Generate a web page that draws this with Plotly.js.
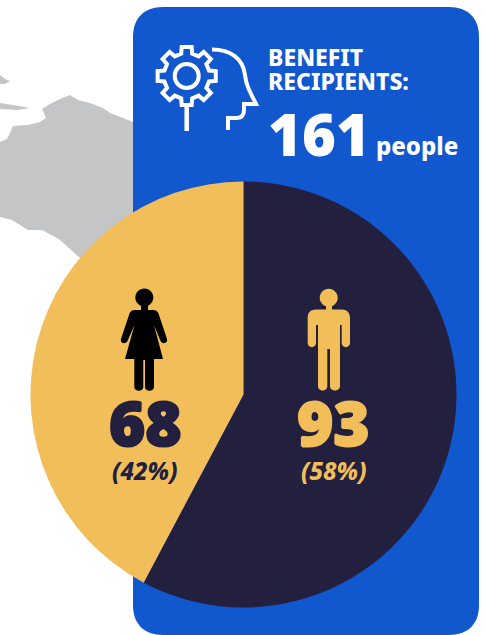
<!DOCTYPE html>
<html>
<head>
<meta charset="utf-8">
<script src="https://cdn.plot.ly/plotly-3.0.1.min.js"></script>
<style>html,body{margin:0;padding:0;background:#fff}#chart{width:485px;height:635px}</style>
</head>
<body>
<div id="chart"></div>
<script>
// Recipients by gender
const genders = ["Men", "Women"];
const recipients = [93, 68];
const shares = ["(58%)", "(42%)"];
const totalLabel = "161";

const W = 485, H = 635;
const BLUE = "#1157CE", NAVY = "#231F3F", GOLD = "#F2BE5A", GREY = "#C4C5C7";
const FONT = "Noto Sans, Open Sans, sans-serif";

// Pixel position to paper coordinates
const px = x => (x / W).toFixed(5);
const py = y => (1 - y / H).toFixed(5);

// Turns "M x y L x y C ..." written in pixels into a paper-space path
function toPaper(d) {
  let isX = true;
  return d.replace(/[A-Z]|-?[\d.]+/g, t => {
    if (/[A-Z]/.test(t)) { isX = true; return t; }
    const v = isX ? px(+t) : py(+t);
    isX = !isX;
    return v;
  });
}
const poly = pts => "M" + pts.map(p => p.join(" ")).join(" L") + " Z";
const filled = (d, color, layer) => ({
  type: "path", xref: "paper", yref: "paper", layer: layer || "above",
  path: toPaper(d), fillcolor: color, line: {width: 0}
});
const stroked = (d, color, width) => ({
  type: "path", xref: "paper", yref: "paper", layer: "above",
  path: toPaper(d), line: {color: color, width: width}
});
const disc = (cx, cy, r) =>
  `M${cx - r} ${cy} C${cx - r} ${cy - r * .552} ${cx - r * .552} ${cy - r} ${cx} ${cy - r} ` +
  `C${cx + r * .552} ${cy - r} ${cx + r} ${cy - r * .552} ${cx + r} ${cy} ` +
  `C${cx + r} ${cy + r * .552} ${cx + r * .552} ${cy + r} ${cx} ${cy + r} ` +
  `C${cx - r * .552} ${cy + r} ${cx - r} ${cy + r * .552} ${cx - r} ${cy} Z`;

// Land mass behind the panel
const landMain = [[133,122],[123,118],[110,113],[103,108],[90,103],[78,100],[70,95],[60,99],[50,104],[42,109],
  [46,118],[40,122],[28,125],[13,126],[10,133],[7,139],[0,142],[0,217],[12,220],[28,230],[42,230],[55,237],
  [60,240],[80,258],[110,280],[133,280]];
const landIsleA = [[0,75],[5,79],[10,81],[5,84],[0,84]];
const landIsleB = [[0,103],[13,105],[30,108],[17,110],[0,109]];

// Gear outline with eight teeth
function gearPath(cx, cy, rOut, rIn) {
  const pts = [];
  for (let i = 0; i < 8; i++) {
    const a = i * Math.PI / 4 - Math.PI / 2;
    [[rIn, -0.24], [rOut, -0.17], [rOut, 0.17], [rIn, 0.24]].forEach(([r, d]) => {
      pts.push([(cx + r * Math.cos(a + d)).toFixed(2), (cy + r * Math.sin(a + d)).toFixed(2)]);
    });
  }
  return poly(pts);
}

const womanBody = "M136 310 C132 310 130 311 129 315 L121 339 C120 343 125 345 127.5 341 L134.5 325 " +
  "L125 359 L134.3 359 L134.3 387 C134.3 392 143.3 392 143.3 387 L143.3 360 L145 360 L145 387 C145 392 154 392 154 387 " +
  "L154 359 L163 359 L154 325 L160.5 341 C163 345 168 343 167 339 L159 315 C158 311 156 310 152 310 Z";
const manBody = "M316 309.5 C310 309.5 307.7 313 307.7 318 L307.7 343 C307.7 348.5 316 348.5 316 343 L316 325 L318 325 " +
  "L318 386 C318 392 327.3 392 327.3 386 L327.3 349 L330 349 L330 386 C330 392 340 392 340 386 L340 325 L341.7 325 " +
  "L341.7 343 C341.7 348.5 350 348.5 350 343 L350 318 C350 313 347 309.5 342 309.5 Z";

const shapes = [
  filled(poly(landMain), GREY, "below"),
  filled(poly(landIsleA), GREY, "below"),
  filled(poly(landIsleB), GREY, "below"),
  filled("M163 7 L449 7 C468 7 479 18 479 37 L479 605 C479 624 468 635 449 635 L163 635 C144 635 133 624 133 605 L133 37 C133 18 144 7 163 7 Z", BLUE, "below"),
  stroked(gearPath(186.7, 76, 29.5, 23), "#fff", 4),
  stroked(disc(186.7, 76, 12), "#fff", 4),
  stroked("M186.7 107 L186.7 131", "#fff", 4.5),
  stroked("M212 49.5 C230 49.5 243 58 245 75 C246 85 250 92 256 104 L244 104 L244 110 C244 116 241 118 236 118 L228 118 L228 130", "#fff", 4),
  filled(disc(144.3, 297.5, 9), "#000"),
  filled("M141 305 L148 305 L148 312 L141 312 Z", "#000"),
  filled(womanBody, "#000"),
  filled(disc(328.7, 297.7, 9), GOLD),
  filled("M326 305 L332 305 L332 312 L326 312 Z", GOLD),
  filled(manBody, GOLD)
];

const label = (text, x, y, size, color, weight, extra) => Object.assign({
  text: text, xref: "paper", yref: "paper", x: x / W, y: 1 - y / H,
  xanchor: "left", yanchor: "middle", showarrow: false,
  font: {family: FONT, size: size, color: color, weight: weight}
}, extra || {});
const pctFont = color => ({family: FONT, size: 24, color: color, weight: 800, style: "italic"});
// Soft outline thickens the big figures to a black weight
const heavy = color => `1px 0 0 ${color}, -1px 0 0 ${color}, 0 1px 0 ${color}, 0 -1px 0 ${color}`;
const bigFont = color => ({family: FONT, size: 62, color: color, weight: 900, shadow: heavy(color)});

const annotations = [
  label("BENEFIT", 266, 57, 23, "#fff", 800),
  label("RECIPIENTS:", 266, 81, 23, "#fff", 800),
  label(totalLabel, 266, 133, 58, "#fff", 900),
  label("people", 374, 146, 24, "#fff", 800),
  label(String(recipients[1]), 145, 422, 62, NAVY, 900, {xanchor: "center", font: bigFont(NAVY)}),
  label(String(recipients[0]), 333, 422, 62, GOLD, 900, {xanchor: "center", font: bigFont(GOLD)}),
  label(shares[1], 145, 470, 24, NAVY, 800, {xanchor: "center", font: pctFont(NAVY)}),
  label(shares[0], 334, 470, 24, GOLD, 800, {xanchor: "center", font: pctFont(GOLD)})
];

const cx = 243.5, cy = 394.5, r = 213;
const data = [{
  type: "pie",
  labels: genders,
  values: recipients,
  sort: false,
  direction: "clockwise",
  rotation: 0,
  textinfo: "none",
  hoverinfo: "label+value",
  marker: {colors: [NAVY, GOLD], line: {width: 0}},
  domain: {x: [(cx - r) / W, (cx + r) / W], y: [1 - (cy + r) / H, 1 - (cy - r) / H]}
}];

Plotly.newPlot("chart", data, {
  width: W, height: H,
  margin: {l: 0, r: 0, t: 0, b: 0},
  paper_bgcolor: "#fff",
  showlegend: false,
  shapes: shapes,
  annotations: annotations
}, {displayModeBar: false});
</script>
</body>
</html>
